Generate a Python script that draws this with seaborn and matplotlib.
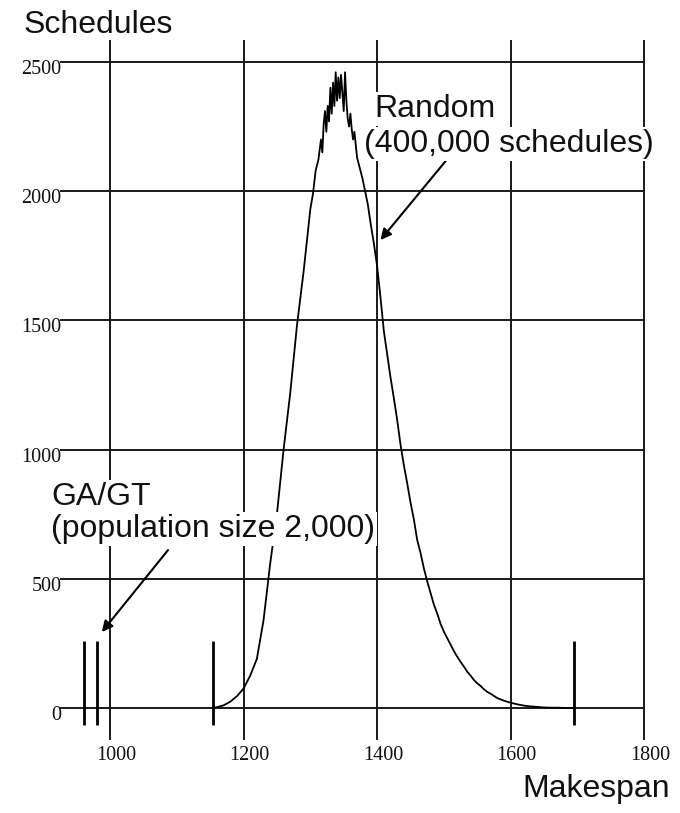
import matplotlib
matplotlib.use("Agg")
import matplotlib.pyplot as plt
import matplotlib.transforms as mtransforms
import seaborn as sns
import pandas as pd

# ---- data ----
makespan = [1154, 1160, 1170, 1180, 1190, 1200, 1210, 1220, 1230, 1240, 1250, 1260,
            1270, 1280, 1290, 1300, 1304, 1308, 1312, 1316, 1318, 1320, 1322, 1324,
            1326, 1328, 1330, 1332, 1334, 1336, 1338, 1340, 1342, 1344, 1346, 1348,
            1350, 1352, 1354, 1356, 1358, 1360, 1362, 1364, 1366, 1370, 1374, 1378,
            1382, 1386, 1390, 1395, 1400, 1405, 1410, 1415, 1420, 1425, 1430, 1435,
            1440, 1445, 1450, 1455, 1460, 1465, 1470, 1475, 1480, 1485, 1490, 1495,
            1500, 1505, 1510, 1515, 1520, 1525, 1530, 1535, 1540, 1545, 1550, 1555,
            1560, 1565, 1570, 1580, 1590, 1600, 1610, 1620, 1630, 1640, 1650, 1660,
            1670, 1680, 1695]
schedules = [0, 3, 10, 24, 45, 75, 125, 190, 340, 560, 750, 1000,
             1220, 1480, 1690, 1930, 1990, 2080, 2120, 2200, 2150, 2260, 2310, 2230,
             2330, 2270, 2400, 2300, 2420, 2330, 2460, 2350, 2440, 2360, 2450, 2380,
             2310, 2460, 2350, 2280, 2250, 2300, 2240, 2200, 2230, 2130, 2090, 2050,
             2000, 1950, 1880, 1800, 1710, 1590, 1460, 1370, 1280, 1200, 1115, 1020,
             940, 870, 795, 730, 650, 600, 540, 490, 445, 400, 365, 325,
             295, 270, 245, 220, 198, 178, 160, 140, 125, 108, 95, 85,
             72, 62, 55, 38, 28, 20, 14, 9, 6, 4, 2, 1,
             1, 0, 0]

marker_x = [961, 980, 1154, 1695]
marker_low = -65
marker_high = 258

x_ticks = [1000, 1200, 1400, 1600, 1800]
y_ticks = [0, 500, 1000, 1500, 2000, 2500]

df = pd.DataFrame({"Makespan": makespan, "Schedules": schedules})

# ---- figure ----
sns.set_theme(style="white")
plt.rcParams["font.family"] = ["Liberation Sans", "DejaVu Sans"]

W, H = 680, 813
fig = plt.figure(figsize=(W / 100, H / 100), dpi=100)
ax = fig.add_axes([60 / W, 1 - 740 / H, 585 / W, 700 / H])

sns.lineplot(data=df, x="Makespan", y="Schedules", color="black", lw=1.3,
             estimator=None, ax=ax)

ax.vlines(marker_x, marker_low, marker_high, color="black", lw=2.0)

ax.set_xlim(925.3, 1801)
ax.set_ylim(-124, 2585)
ax.set_xticks(x_ticks)
ax.set_yticks(y_ticks)
ax.grid(True, color="#1a1a1a", lw=1.4)
ax.set_axisbelow(True)
for s in ax.spines.values():
    s.set_visible(False)
ax.set_xlabel("")
ax.set_ylabel("")
ax.tick_params(axis="both", length=0)
ax.tick_params(axis="y", pad=-1)
ax.tick_params(axis="x", pad=4)

for lab in ax.get_xticklabels() + ax.get_yticklabels():
    lab.set_fontfamily(["Liberation Serif", "DejaVu Serif"])
    lab.set_fontsize(14.5)
    lab.set_color("#111111")
for lab in ax.get_yticklabels():
    lab.set_transform(lab.get_transform() + mtransforms.ScaledTranslation(0, -5 / 100, fig.dpi_scale_trans))
for lab in ax.get_xticklabels():
    lab.set_transform(lab.get_transform() + mtransforms.ScaledTranslation(6 / 100, 0, fig.dpi_scale_trans))

fs = 23
box = dict(facecolor="white", edgecolor="none", pad=1.5)
def ftext(px, py, s, bg=True):
    fig.text(px / W, 1 - py / H, s, fontsize=fs, color="#111111", va="baseline",
             bbox=box if bg else None, zorder=5)

ftext(24, 33, "Schedules", bg=False)
ftext(522, 797, "Makespan", bg=False)
ftext(374, 117, "Random")
ftext(364, 152, "(400,000 schedules)")
ftext(51, 505, "GA/GT")
ftext(51, 537, "(population size 2,000)")

arrow = dict(arrowstyle="-|>", color="black", lw=1.5, mutation_scale=16,
             shrinkA=0, shrinkB=0)
ax.annotate("", xy=(1405, 1811), xytext=(1504, 2121), arrowprops=arrow,
            annotation_clip=False)
ax.annotate("", xy=(988, 294), xytext=(1087, 611), arrowprops=arrow,
            annotation_clip=False)

fig.savefig("out.png", dpi=100)
